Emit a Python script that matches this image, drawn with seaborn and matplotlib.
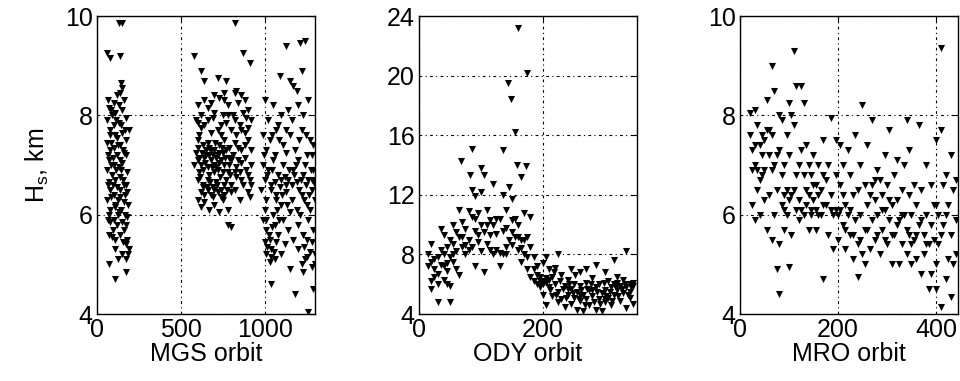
import matplotlib
matplotlib.use("Agg")
import matplotlib.pyplot as plt
import seaborn as sns
import pandas as pd

# ---------------- data ----------------
mgs_pts = [
    # cluster 1
    (130,9.85),(150,9.85),(60,9.25),(80,9.15),(140,9.2),(150,8.55),(140,8.45),(120,8.4),(160,8.3),(100,8.25),
    (130,8.2),(70,8.15),(150,8.1),(110,8.05),(90,8.0),(170,7.95),(60,7.9),(130,7.85),(100,7.8),(190,7.7),
    (150,7.65),(80,7.6),(120,7.55),(170,7.5),(60,7.45),(140,7.4),(100,7.35),(80,7.3),(160,7.25),(120,7.2),
    (70,7.1),(150,7.05),(100,7.0),(130,6.95),(60,6.9),(180,6.85),(90,6.8),(140,6.75),(110,6.7),(70,6.65),
    (160,6.6),(120,6.55),(80,6.5),(180,6.45),(100,6.4),(140,6.35),(60,6.3),(160,6.25),(110,6.2),(80,6.1),
    (130,6.05),(70,6.0),(180,5.95),(100,5.9),(150,5.85),(120,5.8),(160,5.7),(70,5.6),(180,5.5),(110,5.5),
    (90,5.55),(170,5.4),(190,5.3),(150,5.2),(170,5.1),(70,5.0),(110,4.7),(170,4.85),(85,7.0),(125,6.3),
    (95,6.6),(145,6.9),(75,7.7),(115,7.9),(165,6.0),(105,5.3),(135,6.5),(155,7.3),
    (65,8.3),(85,8.1),(105,7.6),(125,7.4),(145,7.8),(165,7.7),(175,7.2),(65,7.2),(95,7.15),(115,6.9),
    (135,7.1),(155,6.7),(175,6.6),(65,6.6),(85,6.35),(105,6.15),(125,6.0),(145,6.1),(165,6.4),(185,6.2),
    (75,5.85),(95,5.7),(135,5.6),(155,5.45),(175,5.8),(185,5.2),(125,5.1),(65,5.9),(145,8.65),(85,7.45),
    # cluster 2
    (820,9.85),(580,9.2),(870,9.25),(910,9.05),(620,8.9),(640,8.7),(770,8.7),(720,8.75),(830,8.5),(780,5.8),(800,5.75),
    (700,8.4),(760,8.45),(820,8.45),(860,8.4),(640,8.3),(730,8.35),(880,8.3),
    (600,8.2),(660,8.15),(700,8.05),(780,8.2),(840,8.25),(900,8.1),(620,8.0),(750,8.0),(810,8.0),(870,8.05),
    (590,7.9),(640,7.8),(690,7.95),(720,7.7),(770,7.85),(800,7.7),(850,7.8),(900,7.75),(610,7.6),(680,7.65),
    (740,7.6),(830,7.6),(920,7.9),(880,7.65),
    (600,7.5),(630,7.4),(660,7.45),(700,7.3),(730,7.4),(760,7.5),(790,7.35),(820,7.45),(860,7.3),(900,7.5),
    (590,7.25),(650,7.2),(680,7.3),(720,7.2),(750,7.25),(810,7.2),(840,7.35),(880,7.4),(920,7.3),
    (600,7.1),(620,7.0),(640,7.15),(660,6.95),(680,7.1),(700,7.0),(720,6.9),(740,7.1),(760,7.0),(780,6.85),
    (800,7.1),(830,6.95),(860,7.05),(890,6.9),(920,7.0),(610,6.85),(670,6.8),(710,7.15),(750,6.85),(850,6.85),(580,7.0),
    (600,6.7),(630,6.6),(660,6.7),(690,6.55),(710,6.65),(740,6.5),(770,6.7),(800,6.6),(830,6.75),(870,6.6),
    (910,6.7),(620,6.45),(680,6.4),(720,6.45),(760,6.4),(820,6.5),(900,6.45),
    (600,6.3),(640,6.25),(700,6.2),(750,6.3),(780,6.1),(620,6.15),(670,6.1),(730,6.05),(850,6.3),(910,6.35),(690,6.35),
    (605,7.35),(625,7.25),(645,7.05),(665,7.35),(685,6.95),(705,7.45),(725,7.05),(745,7.35),(765,7.15),(785,7.0),
    (615,6.75),(635,6.9),(655,6.55),(675,6.65),(695,6.85),(715,6.6),(735,6.75),(755,6.6),(775,6.5),(795,6.8),
    (610,7.15),(630,6.55),(650,7.3),(670,7.2),(690,7.2),(710,6.95),(730,7.25),(770,7.3),(790,7.15),(640,6.4),
    (660,6.5),(700,6.5),(740,6.35),(800,6.45),(820,6.85),(840,7.1),(860,6.7),(880,7.15),(900,6.8),(920,6.6),
    (860,7.7),(820,7.9),(780,8.0),(740,7.8),(660,7.9),(620,7.75),(600,7.85),(680,8.25),(760,8.3),(890,7.95),
    # cluster 3
    (1130,9.4),(1210,9.45),(1240,9.5),(1220,8.9),(1090,8.8),(1150,8.7),(1170,8.6),(1190,8.5),(1040,4.6),(1180,4.4),
    (1260,4.05),(1290,4.5),(1150,4.9),(1230,4.85),(1280,4.95),
    (1000,8.3),(1050,8.2),(1100,8.0),(1140,8.1),(1200,8.2),(1260,8.3),(1020,7.9),(1080,7.8),(1230,8.0),
    (990,7.6),(1030,7.5),(1070,7.7),(1110,7.4),(1150,7.6),(1180,7.3),(1220,7.7),(1270,7.5),(1010,7.3),(1060,7.2),
    (1130,7.25),(1250,7.2),(1290,7.4),
    (990,7.0),(1020,6.9),(1050,7.1),(1080,6.8),(1110,7.0),(1140,6.7),(1170,6.9),(1200,7.1),(1230,6.8),(1260,6.7),
    (1290,6.9),(1000,6.7),(1060,6.65),(1120,6.75),(1190,6.65),(1240,7.0),(1300,6.6),(1280,6.7),
    (980,6.5),(1010,6.3),(1040,6.5),(1070,6.4),(1100,6.2),(1130,6.45),(1160,6.3),(1190,6.1),(1220,6.4),(1250,6.2),
    (1280,6.5),(1300,6.3),(1000,6.1),(1050,6.0),(1090,6.55),(1150,6.05),(1210,6.0),(1270,6.1),
    (990,5.9),(1010,5.7),(1030,5.5),(1060,5.8),(1080,5.6),(1110,5.9),(1140,5.7),(1170,5.5),(1200,5.8),(1230,5.6),
    (1260,5.9),(1290,5.7),(1000,5.45),(1120,5.4),(1250,5.5),
    (1010,5.2),(1040,5.3),(1060,5.1),(1100,5.2),(1200,5.3),(1240,5.1),(1270,5.25),(1300,5.2),(1030,5.05),(1220,5.0),
    (995,7.2),(1015,6.8),(1035,6.6),(1045,6.9),(1065,6.3),(1075,6.1),(1095,6.7),(1105,6.4),(1125,6.6),(1135,6.2),
    (1145,6.9),(1165,6.6),(1175,6.8),(1185,7.0),(1205,6.5),(1215,6.7),(1235,6.3),(1245,6.6),(1265,6.4),(1275,6.9),
    (1295,6.65),(1005,5.9),(1025,5.6),(1045,5.75),(1065,5.45),(1085,5.9),(1015,5.35),(1035,5.15),(1055,5.25),(1045,7.6),
    (1085,7.5),(1125,7.7),(1165,7.9),(1205,7.5),(1245,7.6),(1285,7.2),(1235,5.35),(1255,5.15),(1285,5.45),(1300,5.0),
]

ody_pts = [
    (15,8.0),(15,7.2),(20,8.7),(20,7.5),(20,5.7),(25,7.0),(25,6.5),(30,7.8),(30,6.0),(30,4.8),(35,9.7),(35,8.3),
    (35,7.3),(40,9.3),(40,8.0),(40,6.3),(45,8.5),(45,7.4),(45,6.9),(50,9.0),(50,7.8),(50,4.8),(50,5.9),(55,10.0),
    (55,8.7),(55,7.5),(60,9.5),(60,8.2),(65,11.0),(65,9.2),(65,6.6),(68,14.3),(70,10.2),(70,8.5),(75,9.7),(75,8.0),
    (80,10.9),(80,9.0),(82,13.3),(85,15.1),(85,12.3),(85,10.5),(85,8.5),(90,11.9),(90,9.6),(90,7.2),(95,10.8),(95,8.8),
    (100,13.8),(100,12.2),(100,10.0),(100,8.2),(105,13.3),(105,9.5),(105,6.8),(110,11.0),(110,8.7),(115,10.3),(115,8.3),
    (120,12.7),(120,10.0),(120,8.0),(125,9.4),(125,8.3),(130,10.4),(130,7.2),(135,15.0),(135,12.0),(135,8.0),(140,11.0),
    (140,9.8),(140,8.5),(143,19.5),(145,12.5),(145,9.0),(148,18.4),(150,11.7),(150,10.3),(150,8.6),(155,16.2),(155,9.2),
    (158,14.0),(160,23.2),(160,10.0),(160,8.3),(165,13.2),(165,9.0),(165,7.5),(170,10.8),(170,8.0),(172,13.9),(175,20.2),
    (175,9.2),(175,7.0),(180,10.5),(180,6.5),(185,7.8),(185,6.2),(190,7.2),(190,6.0),(195,6.5),(195,5.8),(200,7.4),
    (200,6.2),(200,5.3),
    (20,6.2),(25,7.7),(30,6.7),(40,7.2),(45,6.0),(55,8.0),(60,7.0),(70,9.2),(75,8.6),(80,8.3),(90,10.4),(95,9.3),
    (110,10.0),(115,9.3),(125,10.4),(130,8.1),(135,9.6),(140,8.0),(150,9.5),(155,10.4),(160,9.2),(165,8.4),(170,9.0),
    (180,8.5),(175,7.8),
    (205,7.8),(205,6.1),(205,4.6),(210,7.0),(210,5.8),(215,6.5),(215,5.2),(220,7.1),(220,6.0),(225,8.0),(225,5.5),
    (225,4.8),(230,6.6),(230,5.0),(235,5.9),(235,4.5),(240,6.3),(240,5.3),(245,7.0),(245,5.7),(245,4.7),(250,6.0),
    (250,5.1),(255,5.5),(255,4.3),(260,6.8),(260,5.9),(260,4.9),(265,5.3),(265,4.2),(270,7.0),(270,6.1),(270,5.0),
    (275,5.6),(275,4.6),(280,6.4),(280,5.2),(285,7.3),(285,5.8),(285,4.3),(290,6.0),(290,5.0),(295,5.4),(295,4.2),
    (300,6.8),(300,5.6),(300,4.8),(305,6.2),(305,5.1),(310,5.8),(310,4.6),(315,7.6),(315,6.0),(315,5.3),(320,6.5),
    (320,5.6),(325,5.9),(325,4.9),(330,6.3),(330,5.4),(335,8.2),(335,5.8),(335,4.4),(340,6.0),(340,5.5),(345,4.7),(345,5.9),
    (185,7.0),(190,6.6),(195,6.2),(200,6.0),(205,6.4),(210,6.3),(212,5.6),(218,6.8),(222,5.3),(228,6.2),(232,5.7),
    (238,5.1),(242,6.0),(248,5.4),(252,6.6),(258,5.0),(262,5.6),(268,4.6),(272,5.7),(278,6.0),(282,4.8),(288,5.5),
    (292,4.7),(298,6.1),(302,5.2),(308,5.5),(312,4.9),(318,5.8),(322,5.2),(328,5.7),(332,6.0),(338,5.3),(342,5.8),
    (345,6.1),(280,5.6),(300,5.0),(320,6.1),(340,5.1),(260,5.3),(240,5.7),
]

mro_pts = [
    (20,8.05),(20,7.6),(25,7.3),(25,6.9),(25,6.2),(30,8.1),(30,7.0),(30,5.9),(35,7.8),(35,6.5),(40,7.4),(40,6.0),
    (45,7.6),(45,6.8),(50,7.5),(50,6.3),(55,8.3),(55,7.7),(55,5.7),(60,7.2),(60,6.4),(65,9.0),(65,7.6),(65,5.5),
    (70,8.5),(70,7.0),(70,6.0),(75,4.9),(75,6.5),(80,4.4),(80,8.0),(80,7.3),(80,5.4),(85,6.2),(85,7.9),(90,7.0),
    (90,6.4),(90,5.7),(95,7.6),(95,6.0),(100,8.25),(100,4.95),(100,7.2),(100,6.3),(105,5.6),(105,8.0),(110,9.3),
    (110,7.8),(110,6.5),(115,8.6),(115,6.1),(120,7.0),(120,6.3),(125,8.6),(125,7.3),(130,8.25),(130,6.8),(130,6.0),
    (135,7.4),(135,6.5),(140,7.0),(140,5.7),(145,6.1),(145,6.8),(150,7.2),(150,6.3),(155,6.6),(155,5.7),(160,6.0),
    (160,7.0),(165,6.5),(170,4.7),(170,7.5),(170,6.8),(175,6.2),(180,7.0),(180,5.6),(185,7.95),(185,6.4),(190,6.0),
    (190,5.3),(195,7.5),(195,6.8),
    (200,6.0),(200,5.5),(205,7.4),(205,6.6),(210,7.0),(210,5.8),(215,6.2),(215,5.3),(220,7.3),(220,6.0),(225,6.8),
    (225,5.6),(230,5.1),(230,6.4),(235,7.6),(235,5.9),(240,4.75),(240,6.5),(240,5.4),(245,7.0),(245,6.0),(250,8.2),
    (250,5.2),(255,6.6),(255,5.7),(260,7.4),(260,6.2),(265,5.3),(270,7.9),(270,6.6),(270,5.9),(275,6.3),(275,5.5),
    (280,6.9),(280,6.0),(285,6.7),(285,5.2),(290,6.4),(290,5.7),(295,7.2),(295,6.1),(300,6.6),(300,5.4),(305,7.7),
    (305,5.9),(310,6.2),(310,5.0),(315,6.8),(315,5.6),(320,7.1),(320,6.3),(325,5.0),(325,5.9),(330,6.5),(330,5.4),
    (335,7.0),(335,6.0),(340,7.9),(340,5.7),(340,5.2),(345,7.3),(345,6.4),(350,5.0),(350,6.0),(355,6.6),(355,5.5),
    (360,5.1),(360,6.2),(365,7.8),(365,5.8),(370,4.8),(370,6.5),(375,5.6),(375,5.2),(380,7.0),(380,6.0),(385,4.5),
    (385,5.4),(390,6.6),(390,4.8),(395,6.2),(395,5.5),(400,7.5),(400,5.0),(400,4.5),(405,6.0),(405,5.4),(410,9.35),
    (410,7.7),(410,4.15),(415,6.6),(415,5.8),(420,6.8),(420,4.7),(425,6.2),(425,5.1),(430,7.2),(430,4.35),(435,6.5),
    (435,5.0),(440,5.9),(440,6.7),
    (30,7.4),(35,6.9),(40,6.7),(45,7.2),(50,6.9),(60,7.7),(65,6.9),(75,7.2),(85,6.8),(90,6.1),(95,6.5),(105,6.4),
    (115,6.8),(120,5.9),(125,6.1),(135,6.2),(140,6.4),(145,6.0),(150,6.6),(155,6.1),(160,6.4),(165,6.0),(170,6.2),
    (175,6.7),(185,6.1),(195,6.1),(205,6.1),(210,6.4),(215,5.7),(225,6.1),(230,5.6),(245,5.5),(255,5.0),(260,5.7),
    (265,6.4),(275,6.7),(280,5.6),(290,6.1),(295,5.5),(305,6.3),(310,5.6),(320,5.8),(330,6.0),(345,5.6),(350,5.4),
    (360,5.6),(370,5.9),(380,5.4),(390,5.8),(400,6.2),(410,5.6),(420,6.0),(430,5.6),(440,5.2),
]

panel_labels = ["MGS orbit", "ODY orbit", "MRO orbit"]
x_limits = [(0, 1300), (0, 352), (0, 445)]
y_limits = [(4, 10), (4, 24), (4, 10)]
x_ticks = [[0, 500, 1000], [0, 200], [0, 200, 400]]
y_ticks = [[4, 6, 8, 10], [4, 8, 12, 16, 20, 24], [4, 6, 8, 10]]
y_label = "H$_\\mathregular{s}$, km"

# ---------------- plot ----------------
sns.set_style("white")
plt.rcParams["font.family"] = ["Liberation Sans", "DejaVu Sans"]
plt.rcParams["mathtext.fontset"] = "custom"
plt.rcParams["mathtext.rm"] = "Liberation Sans"
plt.rcParams["mathtext.it"] = "Liberation Sans"
plt.rcParams["text.color"] = "black"
plt.rcParams["axes.labelcolor"] = "black"

fig = plt.figure(figsize=(9.6, 3.81), dpi=100)
lefts = [97/960, 419/960, 740/960]
width = 218/960
bottom = 1 - 314/381
height = 298/381

for i, pts in enumerate([mgs_pts, ody_pts, mro_pts]):
    ax = fig.add_axes([lefts[i], bottom, width, height])
    df = pd.DataFrame(pts, columns=["orbit", "hs"])
    sns.scatterplot(data=df, x="orbit", y="hs", ax=ax, color="black",
                    marker="v", s=26, linewidth=0, legend=False, zorder=3)
    ax.set_xlim(*x_limits[i])
    ax.set_ylim(*y_limits[i])
    ax.set_xticks(x_ticks[i])
    ax.set_yticks(y_ticks[i])
    ax.grid(True, color="black", linestyle=(0, (2.5, 3, 1, 3)), linewidth=0.8)
    ax.set_axisbelow(True)
    ax.tick_params(direction="in", length=4, width=0.8, labelsize=18,
                   top=True, right=True, pad=3, colors="black")
    for sp in ax.spines.values():
        sp.set_color("black")
        sp.set_linewidth(1.0)
    ax.set_xlabel(panel_labels[i], fontsize=18, labelpad=0, color="black")
    if i == 0:
        ax.set_ylabel(y_label, fontsize=18, labelpad=10, color="black")
    else:
        ax.set_ylabel("")

fig.savefig("out.png", dpi=100)
